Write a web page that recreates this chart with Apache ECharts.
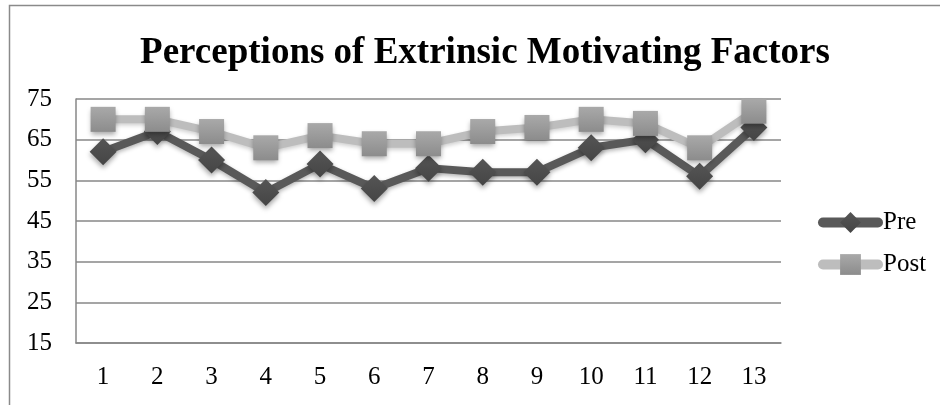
<!DOCTYPE html>
<html>
<head>
<meta charset="utf-8">
<script src="https://cdn.jsdelivr.net/npm/echarts@6/dist/echarts.min.js"></script>
<style>html,body{margin:0;padding:0;background:#fff;}#c{width:940px;height:405px;}</style>
</head>
<body>
<div id="c"></div>
<script>
var titleText = 'Perceptions of Extrinsic Motivating Factors';
var categories = ['1','2','3','4','5','6','7','8','9','10','11','12','13'];
var preValues = [62, 67, 60, 52, 59, 53, 58, 57, 57, 63, 65, 56, 68];
var postValues = [70, 70, 67, 63, 66, 64, 64, 67, 68, 70, 69, 63, 72];
var yMin = 15, yMax = 75, yStep = 10;

var serif = '"Liberation Serif","Times New Roman",serif';
var chart = echarts.init(document.getElementById('c'), null, {renderer: 'canvas'});
function grad(a, b) {
  return new echarts.graphic.LinearGradient(0, 0, 0, 1, [{offset: 0, color: a}, {offset: 1, color: b}]);
}
chart.setOption({
  animation: false,
  backgroundColor: '#fff',
  title: {
    text: titleText, left: 480, textAlign: 'center', top: 30,
    textStyle: {fontFamily: serif, fontWeight: 'bold', fontSize: 37, color: '#000'}
  },
  graphic: [{
    type: 'rect', silent: true,
    shape: {x: 9.5, y: 5.5, width: 1000, height: 1000},
    style: {fill: 'none', stroke: '#8a8a8a', lineWidth: 1.5}
  }],
  legend: {
    orient: 'vertical', left: 813, top: 205, itemGap: 17,
    itemWidth: 55, itemHeight: 26,
    textStyle: {fontFamily: serif, fontSize: 25, color: '#000', padding: [0, 0, 0, 0]},
    data: [
      {name: 'Pre', lineStyle: {width: 10, cap: 'round', color: '#595959'}},
      {name: 'Post', lineStyle: {width: 10, cap: 'round', color: '#bdbdbd'}}
    ]
  },
  grid: {left: 76, right: 159, top: 99, bottom: 62, containLabel: false},
  xAxis: {
    type: 'category', data: categories, boundaryGap: true,
    axisLine: {show: true, lineStyle: {color: '#878787', width: 1.5}},
    axisTick: {show: false},
    axisLabel: {fontFamily: serif, fontSize: 25, color: '#000', margin: 22}
  },
  yAxis: {
    type: 'value', min: yMin, max: yMax, interval: yStep,
    axisLine: {show: true, lineStyle: {color: '#878787', width: 1.5}},
    axisTick: {show: false},
    splitLine: {show: true, lineStyle: {color: '#878787', width: 1.5}},
    axisLabel: {fontFamily: serif, fontSize: 25, color: '#000', margin: 24}
  },
  series: [{
    name: 'Pre', type: 'line', data: preValues,
    symbol: 'diamond', symbolSize: 27,
    lineStyle: {color: '#595959', width: 8, shadowColor: 'rgba(0,0,0,0.3)', shadowBlur: 4, shadowOffsetY: 2},
    itemStyle: {color: grad('#555555', '#454545'), borderWidth: 0, shadowColor: 'rgba(0,0,0,0.35)', shadowBlur: 5, shadowOffsetY: 3}
  }, {
    name: 'Post', type: 'line', data: postValues,
    symbol: 'rect', symbolSize: 25,
    lineStyle: {color: '#bdbdbd', width: 8, shadowColor: 'rgba(0,0,0,0.2)', shadowBlur: 4, shadowOffsetY: 2},
    itemStyle: {color: grad('#a9a9a9', '#8c8c8c'), borderWidth: 0, shadowColor: 'rgba(0,0,0,0.35)', shadowBlur: 5, shadowOffsetY: 3}
  }]
});
</script>
</body>
</html>
